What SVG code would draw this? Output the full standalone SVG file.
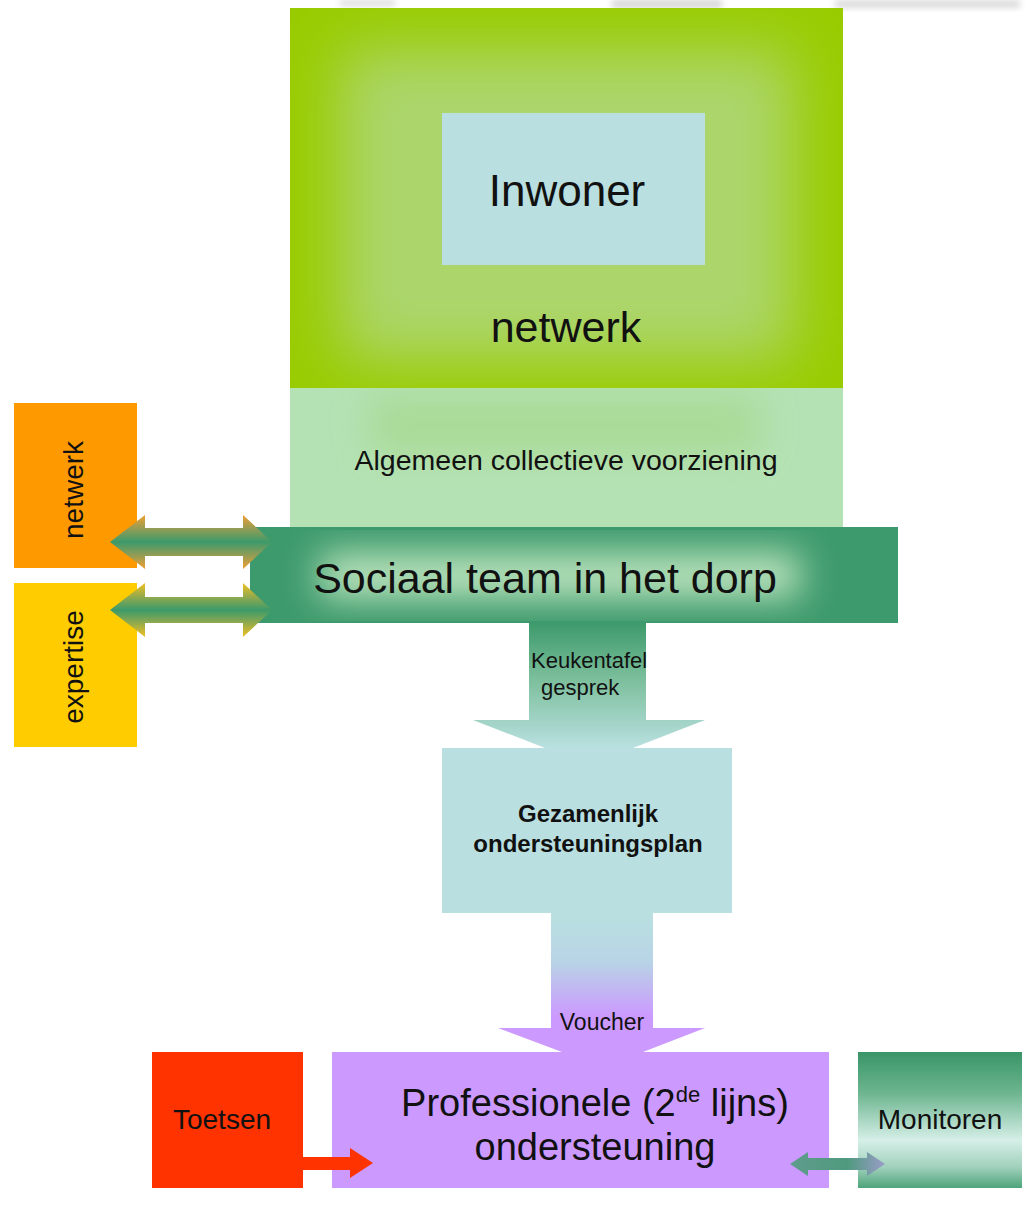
<svg xmlns="http://www.w3.org/2000/svg" width="1025" height="1212" viewBox="0 0 1025 1212">
<style>
text{font-family:"Liberation Sans",Arial,sans-serif;fill:#111;}
.c{text-anchor:middle;}
.b{font-weight:bold;}
</style>
<defs>
<filter id="blur30" x="-50%" y="-50%" width="200%" height="200%"><feGaussianBlur stdDeviation="30"/></filter>
<filter id="blur18" x="-50%" y="-50%" width="200%" height="200%"><feGaussianBlur stdDeviation="18"/></filter>
<filter id="blur3" x="-50%" y="-50%" width="200%" height="200%"><feGaussianBlur stdDeviation="3"/></filter>
<clipPath id="clipTop"><rect x="290" y="8" width="553" height="380"/></clipPath>
<clipPath id="clipAcv"><rect x="290" y="388" width="553" height="139"/></clipPath>
<clipPath id="clipTeam"><rect x="250" y="527" width="648" height="96"/></clipPath>
<linearGradient id="gLeft1" x1="0" y1="0" x2="0" y2="1">
<stop offset="0" stop-color="#f0a030"/><stop offset="0.28" stop-color="#8a9c58"/><stop offset="0.5" stop-color="#3c9a6a"/><stop offset="0.72" stop-color="#8a9c58"/><stop offset="1" stop-color="#f0a030"/>
</linearGradient>
<linearGradient id="gLeft2" x1="0" y1="0" x2="0" y2="1">
<stop offset="0" stop-color="#f0c020"/><stop offset="0.28" stop-color="#8aa850"/><stop offset="0.5" stop-color="#3c9a6a"/><stop offset="0.72" stop-color="#8aa850"/><stop offset="1" stop-color="#f0c020"/>
</linearGradient>
<linearGradient id="gKeuken" gradientUnits="userSpaceOnUse" x1="0" y1="623" x2="0" y2="748">
<stop offset="0" stop-color="#3d9a6b"/><stop offset="0.45" stop-color="#7cbf9c"/><stop offset="1" stop-color="#b9e0e0"/>
</linearGradient>
<linearGradient id="gVoucher" gradientUnits="userSpaceOnUse" x1="0" y1="913" x2="0" y2="1052">
<stop offset="0" stop-color="#b9e0e0"/><stop offset="0.35" stop-color="#b8d4e6"/><stop offset="0.75" stop-color="#cc99ff"/><stop offset="1" stop-color="#cc99ff"/>
</linearGradient>
<linearGradient id="gMon" x1="0" y1="0" x2="0" y2="1">
<stop offset="0" stop-color="#3a9568"/><stop offset="0.3" stop-color="#6cb58f"/><stop offset="0.65" stop-color="#d6efe8"/><stop offset="0.85" stop-color="#9fd0bb"/><stop offset="1" stop-color="#4ea47a"/>
</linearGradient>
<linearGradient id="gTeal" x1="0" y1="0" x2="1" y2="0">
<stop offset="0" stop-color="#5f9c8c"/><stop offset="0.6" stop-color="#4f9a7e"/><stop offset="1" stop-color="#9a9cc8"/>
</linearGradient>
</defs>

<g id="background-noise" opacity="0.35" filter="url(#blur3)">
<rect x="340" y="0" width="55" height="6" fill="#9a9a9a"/>
<rect x="612" y="0" width="110" height="8" fill="#888"/>
<rect x="835" y="0" width="185" height="8" fill="#999"/>
</g>

<g id="node-netwerk-outer">
<rect x="290" y="8" width="553" height="380" fill="#99cc00"/>
<g clip-path="url(#clipTop)"><rect x="340" y="50" width="453" height="310" fill="#acd66c" filter="url(#blur30)"/></g>
<text class="c" x="566" y="342" font-size="43">netwerk</text>
</g>

<g id="node-inwoner">
<rect x="442" y="113" width="263" height="152" fill="#b9dfe0"/>
<text class="c" x="567" y="206" font-size="44">Inwoner</text>
</g>

<g id="node-acv">
<rect x="290" y="388" width="553" height="139" fill="#b4e2b4"/>
<g clip-path="url(#clipAcv)"><rect x="370" y="395" width="390" height="60" fill="#a6d88a" opacity="0.7" filter="url(#blur18)"/></g>
<text class="c" x="566" y="470" font-size="28.5">Algemeen collectieve voorziening</text>
</g>

<g id="node-sociaal-team">
<rect x="250" y="527" width="648" height="96" fill="#3d9a6c"/>
<g clip-path="url(#clipTeam)"><rect x="320" y="553" width="480" height="45" fill="#c0e6c0" filter="url(#blur18)"/></g>
<text class="c" x="545" y="593" font-size="43">Sociaal team in het dorp</text>
</g>

<g id="node-netwerk-side">
<rect x="14" y="403" width="123" height="165" fill="#ff9900"/>
<text class="c" transform="translate(83,490) rotate(-90)" font-size="28">netwerk</text>
</g>

<g id="node-expertise">
<rect x="14" y="583" width="123" height="164" fill="#ffcc00"/>
<text class="c" transform="translate(83,667) rotate(-90)" font-size="28">expertise</text>
</g>

<g id="node-plan">
<rect x="442" y="748" width="290" height="165" fill="#b9dfe0"/>
<text class="c b" x="588" y="822" font-size="24">Gezamenlijk</text>
<text class="c b" x="588" y="852" font-size="24">ondersteuningsplan</text>
</g>

<g id="node-professionele">
<rect x="332" y="1052" width="497" height="136" fill="#cc99ff"/>
<text class="c" x="595" y="1116" font-size="38">Professionele (2<tspan font-size="22" dy="-14">de</tspan><tspan dy="14"> lijns)</tspan></text>
<text class="c" x="595" y="1160" font-size="38">ondersteuning</text>
</g>

<g id="node-toetsen">
<rect x="152" y="1052" width="151" height="136" fill="#ff3300"/>
<text class="c" x="222" y="1129" font-size="28">Toetsen</text>
</g>

<g id="node-monitoren">
<rect x="858" y="1052" width="164" height="136" fill="url(#gMon)"/>
<text class="c" x="940" y="1129" font-size="28">Monitoren</text>
</g>

<g id="connectors">
<polygon points="110,542 145,515 145,528 243,528 243,515 272,542 243,569 243,556 145,556 145,569" fill="url(#gLeft1)"/>
<polygon points="110,610 145,583 145,597 243,597 243,583 272,610 243,637 243,623 145,623 145,637" fill="url(#gLeft2)"/>
<polygon points="529,623 646,623 646,720 705,720 633,748 545,748 473,720 529,720" fill="url(#gKeuken)"/>
<text x="531" y="668" font-size="22">Keukentafel</text>
<text x="541" y="695" font-size="22">gesprek</text>
<polygon points="551,913 653,913 653,1028 705,1028 643,1052 562,1052 498,1028 551,1028" fill="url(#gVoucher)"/>
<text class="c" x="602" y="1030" font-size="23">Voucher</text>
<polygon points="303,1157 350,1157 350,1148 373,1163 350,1178 350,1170 303,1170" fill="#ff3300"/>
<polygon points="790,1164 808,1152 808,1158 867,1158 867,1152 885,1164 867,1176 867,1170 808,1170 808,1176" fill="url(#gTeal)"/>
</g>
</svg>
